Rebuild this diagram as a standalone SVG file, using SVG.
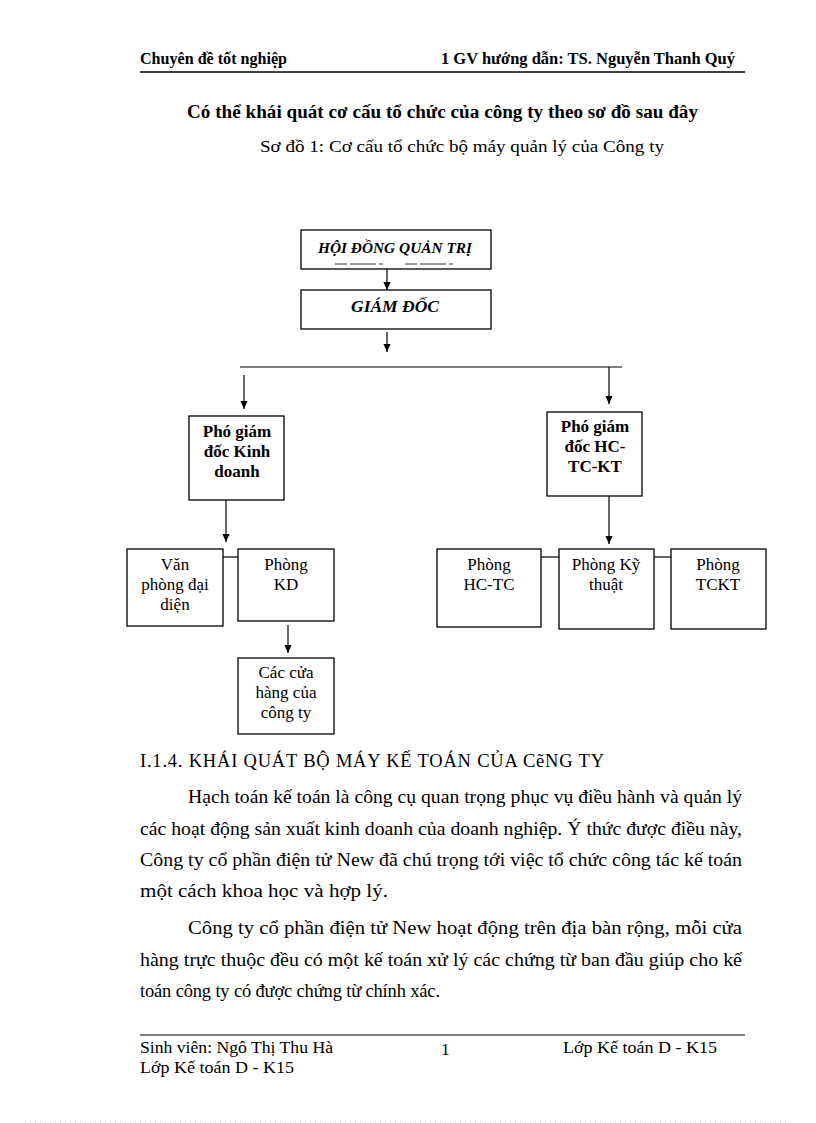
<svg xmlns="http://www.w3.org/2000/svg" width="816" height="1123" viewBox="0 0 816 1123">
<defs>
<marker id="arr" markerWidth="8" markerHeight="9" refX="9" refY="4" orient="auto" markerUnits="userSpaceOnUse" viewBox="0 0 9 8">
<path d="M0,0 L9,4 L0,8 Z" fill="#000"/>
</marker>
<style>
.t{font-family:"Liberation Serif","Times New Roman",serif;fill:#000}
.box{fill:#fff;stroke:#000;stroke-width:1.3}
.ln{stroke:#000;stroke-width:1.2;fill:none}
.bt{font-family:"Liberation Serif","Times New Roman",serif;font-size:17px;fill:#000;text-anchor:middle}
.body{font-family:"Liberation Serif","Times New Roman",serif;font-size:18.5px;fill:#000}
.ft{font-family:"Liberation Serif","Times New Roman",serif;font-size:17.5px;fill:#000}
</style>
</defs>
<rect width="816" height="1123" fill="#fff"/>

<!-- header -->
<text class="t" x="140" y="64" font-size="16" font-weight="bold" textLength="147" lengthAdjust="spacingAndGlyphs">Chuyên đề tốt nghiệp</text>
<text class="t" x="441" y="64" font-size="16" font-weight="bold" textLength="294" lengthAdjust="spacingAndGlyphs">1 GV hướng dẫn:  TS. Nguyễn Thanh  Quý</text>
<line x1="140" y1="72" x2="745" y2="72" stroke="#000" stroke-width="1.5"/>

<text class="t" x="187" y="118" font-size="18" font-weight="bold" textLength="511" lengthAdjust="spacingAndGlyphs">Có thể khái quát cơ cấu tổ chức của công ty theo sơ đồ sau đây</text>
<text class="t" x="260" y="152" font-size="16" textLength="404" lengthAdjust="spacingAndGlyphs">Sơ đồ 1: Cơ cấu tổ chức bộ máy quản  lý của Công ty</text>

<!-- connectors -->
<g id="connectors">
<line class="ln" x1="387" y1="269" x2="387" y2="290" marker-end="url(#arr)"/>
<line class="ln" x1="387" y1="332" x2="387" y2="352" marker-end="url(#arr)"/>
<line class="ln" x1="240" y1="367" x2="622" y2="367"/>
<line class="ln" x1="244" y1="375" x2="244" y2="409" marker-end="url(#arr)"/>
<line class="ln" x1="609" y1="367" x2="609" y2="404" marker-end="url(#arr)"/>
<line class="ln" x1="226" y1="500" x2="226" y2="542" marker-end="url(#arr)"/>
<line class="ln" x1="609" y1="496" x2="609" y2="544" marker-end="url(#arr)"/>
<line class="ln" x1="288" y1="625" x2="288" y2="653" marker-end="url(#arr)"/>
<line class="ln" x1="223" y1="557" x2="238" y2="557"/>
<line class="ln" x1="541" y1="557" x2="559" y2="557"/>
<line class="ln" x1="654" y1="557" x2="671" y2="557"/>
</g>

<g id="hdqt">
<rect class="box" x="301" y="230" width="190" height="39"/>
<text class="t" x="318" y="253" font-size="15" font-weight="bold" font-style="italic" textLength="154" lengthAdjust="spacingAndGlyphs">HỘI ĐỒNG QUẢN TRỊ</text>
<line x1="335" y1="264" x2="458" y2="264" stroke="#000" stroke-width="0.8" stroke-dasharray="12,3,26,3,4,22,12,3,26,3,4,200"/>
</g>
<g id="giamdoc">
<rect class="box" x="301" y="290" width="190" height="39"/>
<text class="t" x="351" y="312" font-size="17" font-weight="bold" font-style="italic" textLength="88" lengthAdjust="spacingAndGlyphs">GIÁM  ĐỐC</text>
</g>
<g id="pgd-kd">
<rect class="box" x="189" y="416" width="95" height="84"/>
<text class="bt" x="237" y="437" font-weight="bold">Phó giám</text>
<text class="bt" x="237" y="457" font-weight="bold">đốc Kinh</text>
<text class="bt" x="237" y="477" font-weight="bold">doanh</text>
</g>
<g id="pgd-hc">
<rect class="box" x="547" y="412" width="95" height="84"/>
<text class="bt" x="595" y="432" font-weight="bold">Phó giám</text>
<text class="bt" x="595" y="452" font-weight="bold">đốc HC-</text>
<text class="bt" x="595" y="472" font-weight="bold">TC-KT</text>
</g>
<g id="vpdd">
<rect class="box" x="127" y="549" width="96" height="77"/>
<text class="bt" x="175" y="570">Văn</text>
<text class="bt" x="175" y="590">phòng đại</text>
<text class="bt" x="175" y="610">diện</text>
</g>
<g id="pkd">
<rect class="box" x="238" y="549" width="96" height="72"/>
<text class="bt" x="286" y="570">Phòng</text>
<text class="bt" x="286" y="590">KD</text>
</g>
<g id="cuahang">
<rect class="box" x="238" y="658" width="96" height="76"/>
<text class="bt" x="286" y="678">Các cửa</text>
<text class="bt" x="286" y="698">hàng của</text>
<text class="bt" x="286" y="718">công ty</text>
</g>
<g id="hctc">
<rect class="box" x="437" y="549" width="104" height="78"/>
<text class="bt" x="489" y="570">Phòng</text>
<text class="bt" x="489" y="590">HC-TC</text>
</g>
<g id="kythuat">
<rect class="box" x="559" y="549" width="95" height="80"/>
<text class="bt" x="606" y="570">Phòng Kỹ</text>
<text class="bt" x="606" y="590">thuật</text>
</g>
<g id="tckt">
<rect class="box" x="671" y="549" width="95" height="80"/>
<text class="bt" x="718" y="570">Phòng</text>
<text class="bt" x="718" y="590">TCKT</text>
</g>

<!-- body text -->
<text class="body" x="140" y="767" font-size="16.5" textLength="464" lengthAdjust="spacing">I.1.4.  KHÁI  QUÁT  BỘ MÁY  KẾ  TOÁN  CỦA  CẽNG TY</text>
<text class="body" x="188" y="803" textLength="554" lengthAdjust="spacingAndGlyphs">Hạch toán kế toán là công cụ quan trọng phục vụ điều hành và quản lý</text>
<text class="body" x="140" y="835" textLength="602" lengthAdjust="spacingAndGlyphs">các hoạt động sản xuất kinh doanh của doanh nghiệp. Ý thức được điều này,</text>
<text class="body" x="140" y="866" textLength="602" lengthAdjust="spacingAndGlyphs">Công ty cổ phần điện tử New đã chú trọng tới việc tổ chức công tác kế toán</text>
<text class="body" x="140" y="897" textLength="248" lengthAdjust="spacingAndGlyphs">một cách khoa học và hợp lý.</text>
<text class="body" x="188" y="934" textLength="554" lengthAdjust="spacingAndGlyphs">Công ty cổ phần điện tử New hoạt động trên địa bàn rộng, mỗi cửa</text>
<text class="body" x="140" y="966" textLength="602" lengthAdjust="spacingAndGlyphs">hàng trực thuộc đều có một kế toán xử lý các chứng từ ban đầu giúp cho kế</text>
<text class="body" x="140" y="997" textLength="300" lengthAdjust="spacing">toán công ty có được chứng từ chính xác.</text>

<!-- footer -->
<line x1="140" y1="1035" x2="745" y2="1035" stroke="#000" stroke-width="1"/>
<text class="ft" x="140" y="1053" textLength="193" lengthAdjust="spacingAndGlyphs">Sinh viên: Ngô Thị Thu Hà</text>
<text class="ft" x="441" y="1055" font-size="18">1</text>
<text class="ft" x="563" y="1053" textLength="154" lengthAdjust="spacingAndGlyphs">Lớp Kế toán D - K15</text>
<text class="ft" x="140" y="1073" textLength="154" lengthAdjust="spacingAndGlyphs">Lớp Kế toán D - K15</text>
<line x1="25" y1="1122" x2="790" y2="1122" stroke="#bbb" stroke-width="1" stroke-dasharray="1,4"/>
</svg>
